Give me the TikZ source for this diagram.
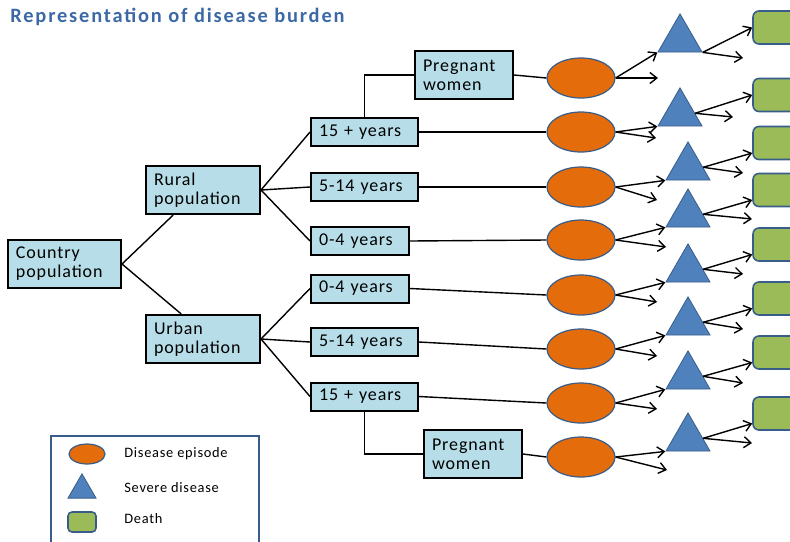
\documentclass[tikz,border=0pt]{standalone}
\usepackage{fontspec}
\setmainfont{Carlito}
\usetikzlibrary{shapes.geometric,arrows.meta}

\definecolor{boxblue}{RGB}{183,222,232}
\definecolor{epiorange}{RGB}{228,108,10}
\definecolor{sevblue}{RGB}{79,129,189}
\definecolor{deathgreen}{RGB}{155,187,89}
\definecolor{outline}{RGB}{56,93,138}
\definecolor{titleblue}{RGB}{60,105,165}

\begin{document}
\begin{tikzpicture}[x=0.5pt,y=-0.5pt,line width=0.7pt,
box/.style={draw,line width=1pt,fill=boxblue,align=left,inner xsep=4pt,inner ysep=2pt,
  minimum height=14pt,text width=#1,font=\fontsize{9}{9.5}\selectfont\addfontfeatures{LetterSpace=5}},
box2/.style={box=#1,minimum height=24pt},
episode/.style={ellipse,draw=outline,line width=0.6pt,fill=epiorange,minimum width=34pt,minimum height=20pt,inner sep=0pt},
severe/.style={regular polygon,regular polygon sides=3,draw=outline,line width=0.4pt,fill=sevblue,minimum size=25.4pt,inner sep=0pt},
death/.style={draw=outline,line width=0.8pt,fill=deathgreen,rounded corners=3pt,minimum width=30pt,minimum height=16.5pt,inner sep=0pt},
arr/.style={-{Straight Barb[length=3.5pt,width=5.5pt]}},
key/.style={anchor=west,font=\fontsize{7.2}{8}\selectfont\addfontfeatures{LetterSpace=5}}]

\useasboundingbox (0,0) rectangle (790,541);
\clip (0,0) rectangle (790,541);

\node[anchor=west,text=titleblue,font=\bfseries\fontsize{10.2}{12}\selectfont\addfontfeatures{LetterSpace=9}] (title) at (3,17) {Representation of disease burden};

\node[box2=48.5pt] (C) at (64.5,264) {Country\\population};
\node[box2=49pt] (R) at (203,190) {Rural\\population};
\node[box2=49pt] (U) at (203,339) {Urban\\population};
\node[box=45.5pt] (R1) at (364.5,132) {15 + years};
\node[box=45.5pt] (R2) at (364.5,187) {5-14 years};
\node[box=41pt] (R3) at (360,241) {0-4 years};
\node[box=41pt] (U1) at (360,288.5) {0-4 years};
\node[box=45.5pt] (U2) at (364.5,342) {5-14 years};
\node[box=45.5pt] (U3) at (364.5,396.5) {15 + years};
\node[box2=41pt] (P1) at (464,75) {Pregnant\\women};
\node[box2=41pt] (P2) at (473,454) {Pregnant\\women};

\node[episode] (E1) at (581,78) {};
\node[episode] (E2) at (581,132) {};
\node[episode] (E3) at (581,187) {};
\node[episode] (E4) at (581,240) {};
\node[episode] (E5) at (581,295) {};
\node[episode] (E6) at (581,349) {};
\node[episode] (E7) at (581,403) {};
\node[episode] (E8) at (581,457) {};

\node[severe] (T1) at (680,39.3) {};
\node[severe] (T2) at (680,113.3) {};
\node[severe] (T3) at (688,167.3) {};
\node[severe] (T4) at (688,214.3) {};
\node[severe] (T5) at (688,269.3) {};
\node[severe] (T6) at (688,322.3) {};
\node[severe] (T7) at (688,376.3) {};
\node[severe] (T8) at (688,438.3) {};

\node[death] (G1) at (783,27.5) {};
\node[death] (G2) at (783,95) {};
\node[death] (G3) at (783,143) {};
\node[death] (G4) at (783,190) {};
\node[death] (G5) at (783,244.5) {};
\node[death] (G6) at (783,298.5) {};
\node[death] (G7) at (783,352.5) {};
\node[death] (G8) at (783,413.5) {};

\coordinate (a1) at (658,78);
\coordinate (a2) at (656,138);
\coordinate (a3) at (657,200);
\coordinate (a4) at (666,247);
\coordinate (a5) at (657,302);
\coordinate (a6) at (657,356);
\coordinate (a7) at (657,409);
\coordinate (a8) at (667,470);
\coordinate (b1) at (743,58);
\coordinate (b2) at (733,117);
\coordinate (b3) at (743,173);
\coordinate (b4) at (752,219);
\coordinate (b5) at (743,274);
\coordinate (b6) at (743,329);
\coordinate (b7) at (743,383);
\coordinate (b8) at (752,443);

\draw (C.east) -- (R.220);
\draw (C.east) -- (U.131);
\draw (R.east) -- (R1.west);
\draw (R.east) -- (R2.west);
\draw (R.east) -- (R3.west);
\draw (U.east) -- (U1.west);
\draw (U.east) -- (U2.west);
\draw (U.east) -- (U3.west);
\draw (R1.north) |- (P1.west);
\draw (U3.south) |- (P2.west);

\draw (P1.east) -- (E1.west);
\draw (R1.east) -- (E2.west);
\draw (R2.east) -- (E3.west);
\draw (R3.east) -- (E4.west);
\draw (U1.east) -- (E5.west);
\draw (U2.east) -- (E6.west);
\draw (U3.east) -- (E7.west);
\draw (P2.east) -- (E8.west);

\draw[arr] (E1.east) -- (T1.corner 2);
\draw[arr] (E1.east) -- (a1);
\draw[arr] (E2.east) -- (T2.corner 2);
\draw[arr] (E2.east) -- (a2);
\draw[arr] (E3.east) -- (T3.corner 2);
\draw[arr] (E3.east) -- (a3);
\draw[arr] (E4.east) -- (T4.corner 2);
\draw[arr] (E4.east) -- (a4);
\draw[arr] (E5.east) -- (T5.corner 2);
\draw[arr] (E5.east) -- (a5);
\draw[arr] (E6.east) -- (T6.corner 2);
\draw[arr] (E6.east) -- (a6);
\draw[arr] (E7.east) -- (T7.corner 2);
\draw[arr] (E7.east) -- (a7);
\draw[arr] (E8.east) -- (T8.corner 2);
\draw[arr] (E8.east) -- (a8);

\draw[arr] (T1.corner 3) -- (G1.west);
\draw[arr] (T1.corner 3) -- (b1);
\draw[arr] (T2.east) -- (G2.west);
\draw[arr] (T2.east) -- (b2);
\draw[arr] (T3.east) -- (G3.198);
\draw[arr] (T3.east) -- (b3);
\draw[arr] (T4.east) -- (G4.198);
\draw[arr] (T4.east) -- (b4);
\draw[arr] (T5.east) -- (G5.198);
\draw[arr] (T5.east) -- (b5);
\draw[arr] (T6.east) -- (G6.198);
\draw[arr] (T6.east) -- (b6);
\draw[arr] (T7.east) -- (G7.198);
\draw[arr] (T7.east) -- (b7);
\draw[arr] (T8.east) -- (G8.198);
\draw[arr] (T8.east) -- (b8);

% legend
\draw[draw=outline,line width=0.8pt] (51,436) rectangle (259,560);
\node[episode,minimum width=18pt,minimum height=10pt] (LE) at (87,454) {};
\node[severe,minimum size=16.2pt] (LT) at (82,490) {};
\node[death,minimum width=14pt,minimum height=10pt,rounded corners=2pt] (LG) at (82,522) {};
\node[key] (KE) at (117,454) {Disease episode};
\node[key] (KT) at (117,488) {Severe disease};
\node[key] (KG) at (117,519) {Death};
\end{tikzpicture}
\end{document}
